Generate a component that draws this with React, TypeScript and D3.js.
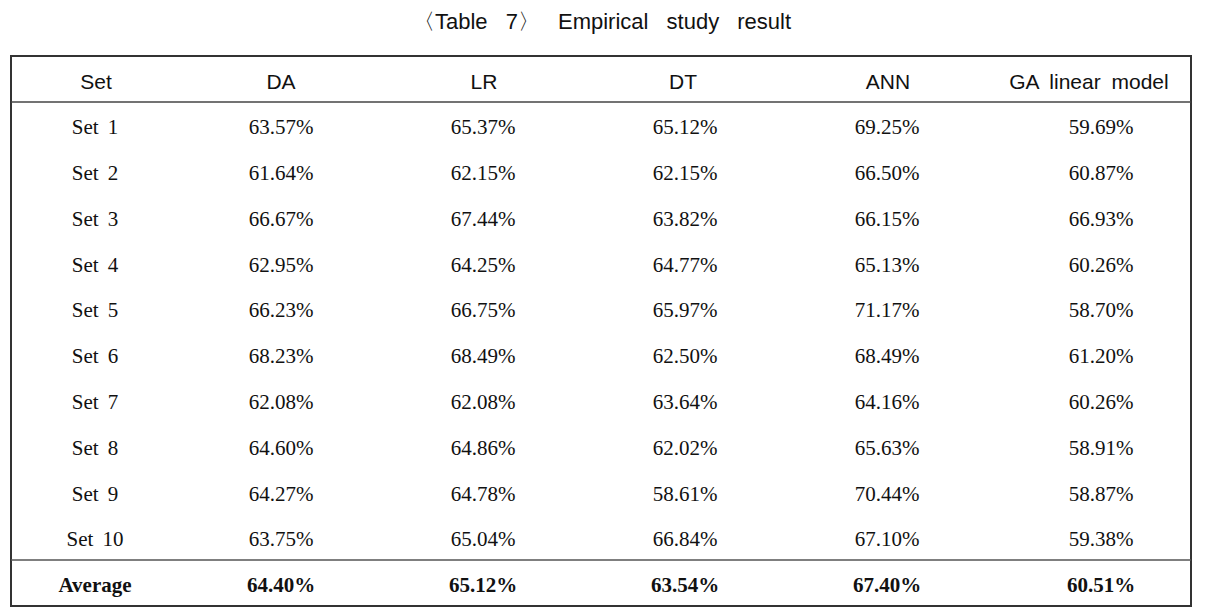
import React from "react";
import * as d3 from "d3";

const title = "〈Table 7〉 Empirical study result";
const columns = ["Set", "DA", "LR", "DT", "ANN", "GA linear model"];
const setLabels = ["Set 1", "Set 2", "Set 3", "Set 4", "Set 5", "Set 6", "Set 7", "Set 8", "Set 9", "Set 10"];
const DA = [63.57, 61.64, 66.67, 62.95, 66.23, 68.23, 62.08, 64.6, 64.27, 63.75];
const LR = [65.37, 62.15, 67.44, 64.25, 66.75, 68.49, 62.08, 64.86, 64.78, 65.04];
const DT = [65.12, 62.15, 63.82, 64.77, 65.97, 62.5, 63.64, 62.02, 58.61, 66.84];
const ANN = [69.25, 66.5, 66.15, 65.13, 71.17, 68.49, 64.16, 65.63, 70.44, 67.1];
const GA = [59.69, 60.87, 66.93, 60.26, 58.7, 61.2, 60.26, 58.91, 58.87, 59.38];
const averageLabel = "Average";
const averages = [64.4, 65.12, 63.54, 67.4, 60.51];

const W = 1211;
const H = 608;
const left = 11;
const right = 1191;
const top = 56;
const headerBottom = 102;
const avgTop = 560;
const bottom = 606;
// column centre positions (layout)
const colCenters = [95, 281, 483, 685, 887, 1101];
const headerShift = [1, 0, 1, -2, 1, -12];

const fmt = (v: number) => d3.format(".2f")(v) + "%";

export default function App() {
  const series = [DA, LR, DT, ANN, GA];
  const y = d3
    .scaleBand<string>()
    .domain(setLabels)
    .range([headerBottom, avgTop])
    .paddingInner(0)
    .paddingOuter(0);
  const x = d3.scaleOrdinal<string, number>().domain(columns).range(colCenters);
  const serif = "'Liberation Serif', 'Times New Roman', serif";
  const sans = "'Liberation Sans', Arial, sans-serif";
  const fs = 21;
  const off = 2.2 + 0.34 * fs;

  return (
    <svg
      width={W}
      height={H}
      style={{ position: "absolute", left: 0, top: 0, background: "#fff" }}
    >
      <rect x={0} y={0} width={W} height={H} fill="#fff" />
      <text
        x={(left + right) / 2 + 1}
        y={29}
        textAnchor="middle"
        fontFamily={sans}
        fontSize={22}
        fill="#111"
        style={{ wordSpacing: "12px" }}
      >
        {title}
      </text>
      {/* outer border */}
      <rect
        x={left}
        y={top}
        width={right - left}
        height={bottom - top}
        fill="none"
        stroke="#333"
        strokeWidth={2}
      />
      <line x1={left} x2={right} y1={headerBottom} y2={headerBottom} stroke="#444" strokeWidth={1.5} />
      <line x1={left} x2={right} y1={avgTop} y2={avgTop} stroke="#555" strokeWidth={1.6} />

      {columns.map((c, i) => (
        <text
          key={c}
          x={(x(c) as number) + headerShift[i]}
          y={(top + headerBottom) / 2 + 2 + 0.36 * fs}
          textAnchor="middle"
          fontFamily={sans}
          fontSize={fs}
          fill="#111"
          style={{ wordSpacing: "5px" }}
        >
          {c}
        </text>
      ))}

      {setLabels.map((s, r) => {
        const cy = (y(s) as number) + y.bandwidth() / 2 + off;
        return (
          <g key={s}>
            <text
              x={x(columns[0])}
              y={cy}
              textAnchor="middle"
              fontFamily={serif}
              fontSize={fs}
              fill="#111"
              style={{ wordSpacing: "4px" }}
            >
              {s}
            </text>
            {series.map((arr, k) => (
              <text
                key={k}
                x={x(columns[k + 1])}
                y={cy}
                textAnchor="middle"
                fontFamily={serif}
                fontSize={fs}
                fill="#111"
              >
                {fmt(arr[r])}
              </text>
            ))}
          </g>
        );
      })}

      <g>
        <text
          x={x(columns[0])}
          y={(avgTop + bottom) / 2 + off}
          textAnchor="middle"
          fontFamily={serif}
          fontSize={fs}
          fontWeight="bold"
          fill="#111"
        >
          {averageLabel}
        </text>
        {averages.map((v, k) => (
          <text
            key={k}
            x={x(columns[k + 1])}
            y={(avgTop + bottom) / 2 + off}
            textAnchor="middle"
            fontFamily={serif}
            fontSize={fs}
            fontWeight="bold"
            fill="#111"
          >
            {fmt(v)}
          </text>
        ))}
      </g>
    </svg>
  );
}
